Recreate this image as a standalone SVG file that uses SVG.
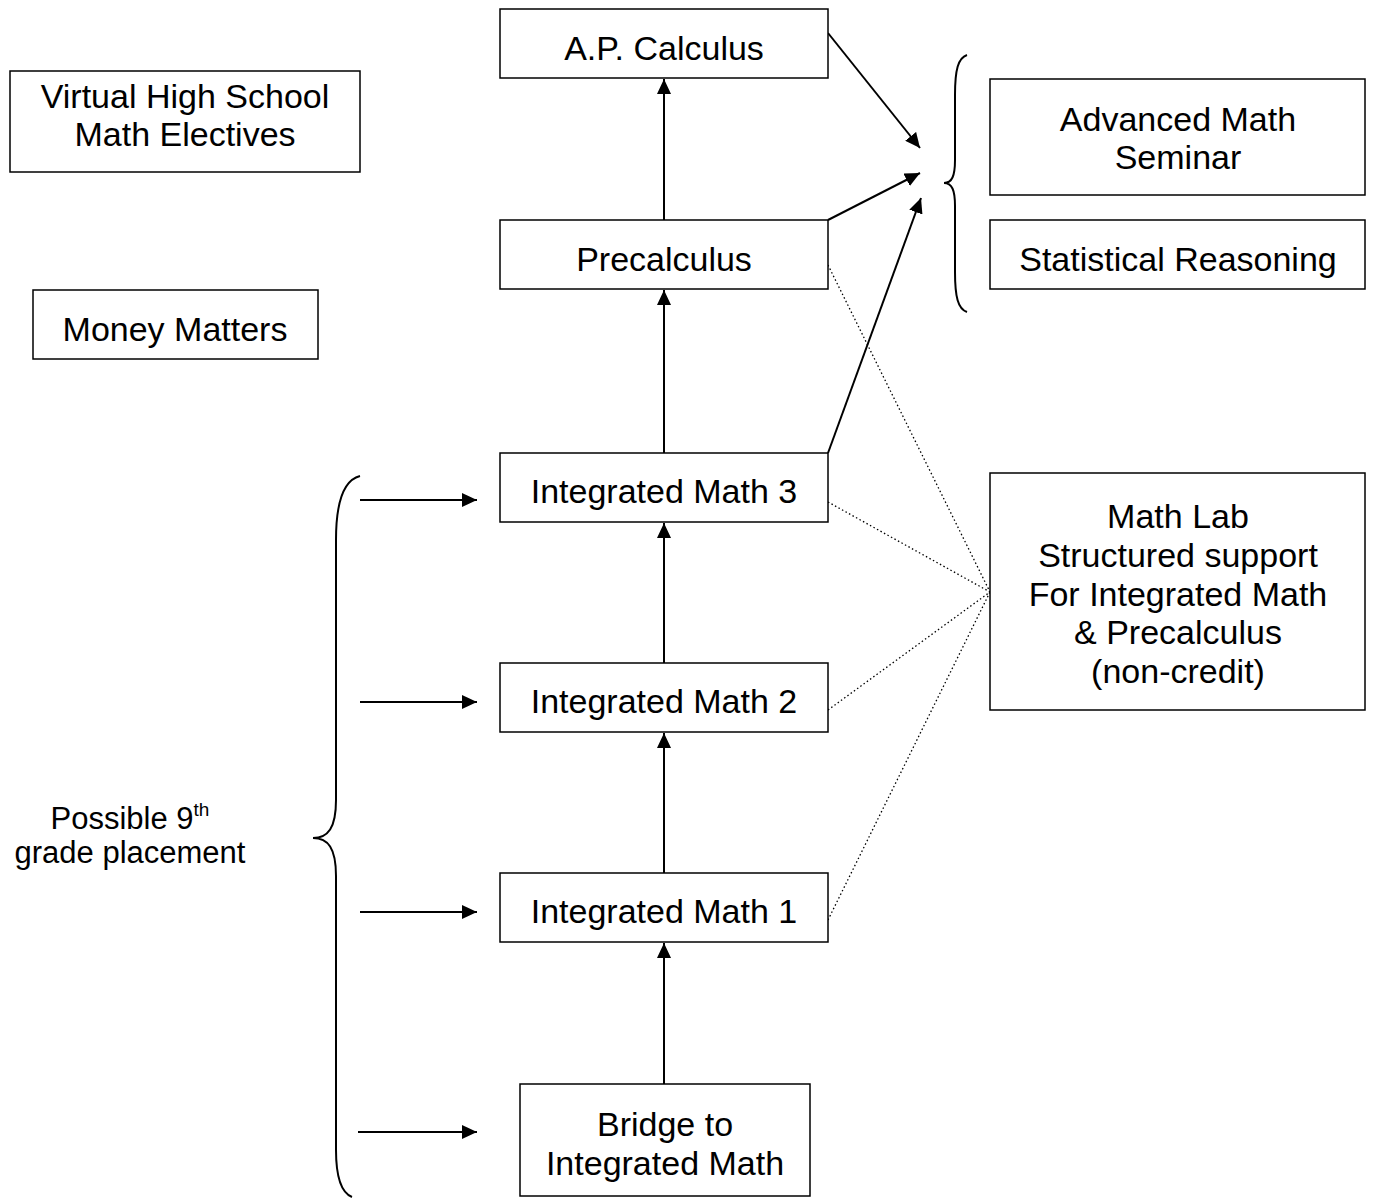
<svg xmlns="http://www.w3.org/2000/svg" width="1380" height="1198" viewBox="0 0 1380 1198">
<style>
.box{fill:#fff;stroke:#000;stroke-width:1.5}
.t{font-family:"Liberation Sans",Arial,sans-serif;font-size:34px;fill:#000;text-anchor:middle}
.s{font-family:"Liberation Sans",Arial,sans-serif;font-size:31px;fill:#000;text-anchor:middle}
.ln{stroke:#000;stroke-width:2;fill:none}
.dot{stroke:#000;stroke-width:1.3;stroke-dasharray:1.5 2.5;fill:none}
.br{stroke:#000;stroke-width:2;fill:none}
</style>
<defs>
<marker id="ah" markerWidth="15" markerHeight="14" refX="15" refY="7" orient="auto" markerUnits="userSpaceOnUse">
<path d="M0,0 L15,7 L0,14 Z" fill="#000"/>
</marker>
</defs>
<rect width="1380" height="1198" fill="#fff"/>
<g id="connectors">
<line class="ln" x1="664" y1="1084" x2="664" y2="943" marker-end="url(#ah)"/>
<line class="ln" x1="664" y1="873" x2="664" y2="733" marker-end="url(#ah)"/>
<line class="ln" x1="664" y1="663" x2="664" y2="523" marker-end="url(#ah)"/>
<line class="ln" x1="664" y1="453" x2="664" y2="290" marker-end="url(#ah)"/>
<line class="ln" x1="664" y1="220" x2="664" y2="79" marker-end="url(#ah)"/>
<line class="ln" x1="828" y1="33" x2="920" y2="148" marker-end="url(#ah)"/>
<line class="ln" x1="828" y1="220" x2="920" y2="173" marker-end="url(#ah)"/>
<line class="ln" x1="828" y1="453" x2="921" y2="198" marker-end="url(#ah)"/>
<line class="ln" x1="360" y1="500" x2="477" y2="500" marker-end="url(#ah)"/>
<line class="ln" x1="360" y1="702" x2="477" y2="702" marker-end="url(#ah)"/>
<line class="ln" x1="360" y1="912" x2="477" y2="912" marker-end="url(#ah)"/>
<line class="ln" x1="358" y1="1132" x2="477" y2="1132" marker-end="url(#ah)"/>
<line class="dot" x1="828" y1="265" x2="990" y2="592"/>
<line class="dot" x1="828" y1="502" x2="990" y2="592"/>
<line class="dot" x1="828" y1="710" x2="990" y2="592"/>
<line class="dot" x1="828" y1="920" x2="990" y2="592"/>
<path class="br" d="M967,55 C958,58 955,70 955,95 L955,160 C955,176 952,183 944,183 C952,183 955,190 955,206 L955,272 C955,297 958,309 967,312"/>
<path class="br" d="M360,476 C344,480 336,500 336,540 L336,800 C336,828 328,838 313,838 C328,838 336,848 336,876 L336,1150 C336,1180 342,1193 352,1197"/>
</g>
<g id="ap-calculus"><rect class="box" x="500" y="9" width="328" height="69"/><text class="t" x="664" y="60">A.P. Calculus</text></g>
<g id="vhs-electives"><rect class="box" x="10" y="71" width="350" height="101"/><text class="t" x="185" y="108">Virtual High School</text><text class="t" x="185" y="146">Math Electives</text></g>
<g id="money-matters"><rect class="box" x="33" y="290" width="285" height="69"/><text class="t" x="175" y="341">Money Matters</text></g>
<g id="precalculus"><rect class="box" x="500" y="220" width="328" height="69"/><text class="t" x="664" y="271">Precalculus</text></g>
<g id="advanced-math-seminar"><rect class="box" x="990" y="79" width="375" height="116"/><text class="t" x="1178" y="131">Advanced Math</text><text class="t" x="1178" y="169">Seminar</text></g>
<g id="statistical-reasoning"><rect class="box" x="990" y="220" width="375" height="69"/><text class="t" x="1178" y="271">Statistical Reasoning</text></g>
<g id="integrated-math-3"><rect class="box" x="500" y="453" width="328" height="69"/><text class="t" x="664" y="503">Integrated Math 3</text></g>
<g id="integrated-math-2"><rect class="box" x="500" y="663" width="328" height="69"/><text class="t" x="664" y="713">Integrated Math 2</text></g>
<g id="integrated-math-1"><rect class="box" x="500" y="873" width="328" height="69"/><text class="t" x="664" y="923">Integrated Math 1</text></g>
<g id="math-lab"><rect class="box" x="990" y="473" width="375" height="237"/>
<text class="t" x="1178" y="528">Math Lab</text>
<text class="t" x="1178" y="567">Structured support</text>
<text class="t" x="1178" y="606">For Integrated Math</text>
<text class="t" x="1178" y="644">&amp; Precalculus</text>
<text class="t" x="1178" y="683">(non-credit)</text></g>
<g id="bridge"><rect class="box" x="520" y="1084" width="290" height="112"/><text class="t" x="665" y="1136">Bridge to</text><text class="t" x="665" y="1175">Integrated Math</text></g>
<g id="placement-label"><text class="s" x="130" y="829">Possible 9<tspan font-size="19" dy="-13">th</tspan></text><text class="s" x="130" y="863">grade placement</text></g>
</svg>
